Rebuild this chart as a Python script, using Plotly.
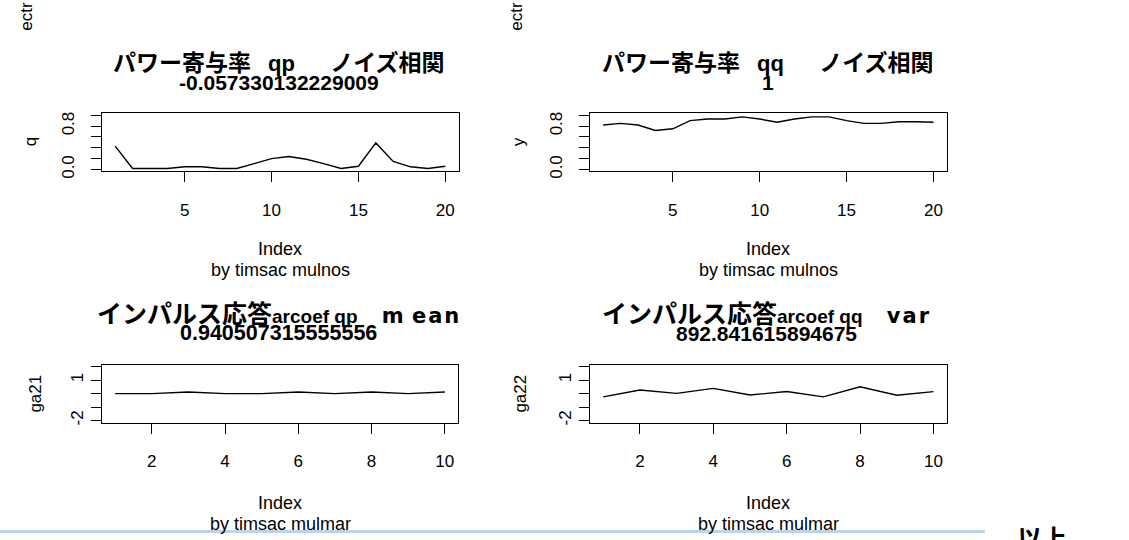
import plotly.graph_objects as go

W, H = 1129, 540

# ---- data ----
idx_mulnos = list(range(1, 21))
q_vals = [0.43, 0.02, 0.02, 0.02, 0.05, 0.05, 0.02, 0.02, 0.11, 0.20,
          0.24, 0.19, 0.11, 0.02, 0.06, 0.49, 0.15, 0.05, 0.02, 0.06]
y_vals = [0.82, 0.85, 0.82, 0.72, 0.75, 0.90, 0.93, 0.93, 0.97, 0.93,
          0.87, 0.93, 0.97, 0.97, 0.90, 0.85, 0.85, 0.88, 0.88, 0.87]
idx_mulmar = list(range(1, 11))
ga21_vals = [0.0, 0.0, 0.12, 0.0, 0.0, 0.12, 0.0, 0.12, 0.0, 0.12]
ga22_vals = [-0.24, 0.27, 0.02, 0.39, -0.10, 0.15, -0.24, 0.51, -0.12, 0.15]

top_xticks = [5, 10, 15, 20]
top_yticks = [0.0, 0.2, 0.4, 0.6, 0.8, 1.0]
top_yticktext = ["0.0", "", "", "", "0.8", ""]
bot_xticks = [2, 4, 6, 8, 10]
bot_yticks = [-2, -1, 0, 1, 2]
bot_yticktext = ["-2", "", "", "1", ""]

ylabels = ["q", "y", "ga21", "ga22"]
sub_top = "by timsac mulnos"
sub_bot = "by timsac mulmar"
num_tl = "-0.057330132229009"
num_tr = "1"
num_bl = "0.940507315555556"
num_br = "892.841615894675"


def px(x):
    return x / W


def py(y):
    return 1 - y / H


LAT = "Liberation Sans, Arial, Noto Sans CJK JP"
JP = "Noto Sans CJK JP"

fig = go.Figure()
for xs, ys, k in [(idx_mulnos, q_vals, ""), (idx_mulnos, y_vals, "2"),
                  (idx_mulmar, ga21_vals, "3"), (idx_mulmar, ga22_vals, "4")]:
    fig.add_trace(go.Scatter(x=xs, y=ys, mode="lines",
                             line=dict(color="black", width=1.4),
                             xaxis="x" + k, yaxis="y" + k))

axcommon = dict(showline=True, mirror=True, linecolor="black", linewidth=1,
                ticks="outside", ticklen=10, tickcolor="black", tickwidth=1,
                showgrid=False, zeroline=False,
                tickfont=dict(family=LAT, size=17, color="black"))

panels = {
    "TL": dict(x=(102, 458.5), y=(114, 173)),
    "TR": dict(x=(590, 946.7), y=(114, 173)),
    "BL": dict(x=(102, 458), y=(369, 428)),
    "BR": dict(x=(590, 946.7), y=(369, 428)),
}

layout = dict(width=W, height=H, margin=dict(l=0, r=0, t=0, b=0),
              paper_bgcolor="white", plot_bgcolor="white", showlegend=False)

names = ["TL", "TR", "BL", "BR"]
for i, n in enumerate(names):
    k = "" if i == 0 else str(i + 1)
    p = panels[n]
    top = n.startswith("T")
    xa = dict(axcommon)
    xa.update(domain=[px(p["x"][0]), px(p["x"][1])],
              range=[0.24, 20.76] if top else [0.64, 10.36],
              tickvals=top_xticks if top else bot_xticks,
              anchor="y" + k, ticklabelstandoff=13)
    ya = dict(axcommon)
    ya.update(domain=[py(p["y"][1]), py(p["y"][0])],
              range=[-0.035, 1.035] if top else [-2.16, 2.16],
              tickvals=top_yticks if top else bot_yticks,
              ticktext=top_yticktext if top else bot_yticktext,
              tickangle=-90, anchor="x" + k,
              ticklabelstandoff=10 if top else 1)
    layout["xaxis" + k] = xa
    layout["yaxis" + k] = ya

fig.update_layout(**layout)

ann = []


def text(x, y, t, size, family=LAT, angle=0, xanchor="center", yanchor="middle"):
    ann.append(dict(x=px(x), y=py(y), xref="paper", yref="paper", text=t,
                    showarrow=False, textangle=angle, xanchor=xanchor,
                    yanchor=yanchor, font=dict(family=family, size=size, color="black")))


# titles
sp = "\u00a0"
wide = ('<span style="font-family:DejaVu Sans;font-size:21px;'
        'letter-spacing:2px">')
t_tl = ('<b><span style="font-size:23px">パワー寄与率</span>\u2002' + sp + 'qp' + sp + sp +
        '<span style="font-size:23px">　ノイズ相関</span></b>')
t_tr = ('<b><span style="font-size:23px">パワー寄与率</span>\u2002' + sp + 'qq' + sp + sp +
        '<span style="font-size:23px">　ノイズ相関</span></b>')
t_bl = ('<b><span style="font-size:25px">インパルス応答</span>arcoef qp' + sp +
        '<span style="font-size:19px">　</span>' + wide + 'm\u2009ean</span></b>')
t_br = ('<b><span style="font-size:25px">インパルス応答</span>arcoef qq' + sp +
        '<span style="font-size:19px">　</span>' + wide + 'var</span></b>')
text(279, 63, t_tl, 22)
text(768, 63, t_tr, 22)
text(279, 318, t_bl, 19)
text(766, 318, t_br, 19)
text(279, 83, "<b>" + num_tl + "</b>", 21)
text(768, 83, "<b>" + num_tr + "</b>", 21)
text(278, 337, "<b>" + num_bl + "</b>", 21.5)
text(766, 337, "<b>" + num_br + "</b>", 21)

# axis labels
text(30, 143.5, ylabels[0], 17, angle=-90)
text(518, 143.5, ylabels[1], 17, angle=-90)
text(36, 398.5, ylabels[2], 17, angle=-90)
text(521, 398.5, ylabels[3], 17, angle=-90)

text(280, 252, "Index", 18)
text(768, 252, "Index", 18)
text(280, 273, sub_top, 18)
text(768, 273, sub_top, 18)
text(280, 509.5, "Index", 18)
text(768, 509.5, "Index", 18)
text(280, 530.5, sub_bot, 18)
text(768, 530.5, sub_bot, 18)

# fragments
text(27, 16, "ectr", 17, angle=-90)
text(517, 16, "ectr", 17, angle=-90)
text(1042, 524, "<b>以上</b>", 25, family=JP, yanchor="top")

fig.update_layout(annotations=ann)
fig.add_shape(type="line", xref="paper", yref="paper", x0=0, x1=px(985),
              y0=py(538.5), y1=py(538.5), line=dict(color="#bcd3ee", width=3))

fig.write_html("out.html")
